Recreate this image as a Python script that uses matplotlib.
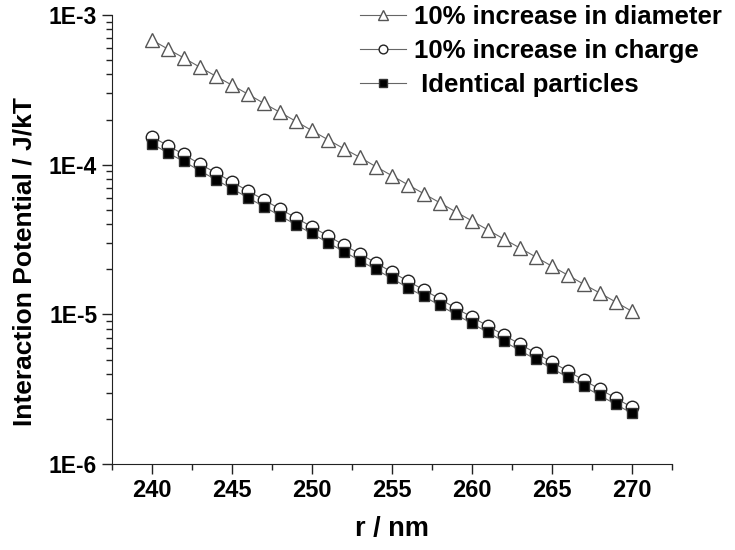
import numpy as np
import matplotlib
matplotlib.use("Agg")
import matplotlib.pyplot as plt
from matplotlib.ticker import FixedLocator, LogLocator, FuncFormatter, NullFormatter


plt.rcParams['font.family'] = ['Liberation Sans', 'DejaVu Sans']
plt.rcParams['font.weight'] = 'bold'


# =====================================================
# Data
# =====================================================

r_nm = list(range(240, 271))

diameter_up = [6.81e-4, 5.92e-4, 5.16e-4, 4.48e-4, 3.90e-4, 3.40e-4, 2.96e-4, 2.57e-4,
               2.24e-4, 1.95e-4, 1.69e-4, 1.47e-4, 1.28e-4, 1.12e-4, 9.71e-5, 8.45e-5,
               7.35e-5, 6.40e-5, 5.57e-5, 4.84e-5, 4.22e-5, 3.67e-5, 3.19e-5, 2.78e-5,
               2.42e-5, 2.10e-5, 1.83e-5, 1.59e-5, 1.39e-5, 1.21e-5, 1.05e-5]

charge_up = [1.54e-4, 1.34e-4, 1.17e-4, 1.01e-4, 8.83e-5, 7.69e-5, 6.69e-5, 5.83e-5,
             5.07e-5, 4.42e-5, 3.85e-5, 3.35e-5, 2.91e-5, 2.54e-5, 2.21e-5, 1.92e-5,
             1.67e-5, 1.46e-5, 1.27e-5, 1.10e-5, 9.62e-6, 8.37e-6, 7.29e-6, 6.34e-6,
             5.52e-6, 4.81e-6, 4.19e-6, 3.64e-6, 3.17e-6, 2.76e-6, 2.40e-6]

identical = [1.38e-4, 1.20e-4, 1.05e-4, 9.12e-5, 7.94e-5, 6.92e-5, 6.03e-5, 5.25e-5,
             4.57e-5, 3.98e-5, 3.47e-5, 3.02e-5, 2.63e-5, 2.29e-5, 2.00e-5, 1.74e-5,
             1.51e-5, 1.32e-5, 1.15e-5, 1.00e-5, 8.71e-6, 7.59e-6, 6.61e-6, 5.75e-6,
             5.01e-6, 4.37e-6, 3.80e-6, 3.31e-6, 2.88e-6, 2.51e-6, 2.19e-6]

labels = ["10% increase in diameter", "10% increase in charge", " Identical particles"]

x_ticks = [240, 245, 250, 255, 260, 265, 270]
y_ticks = [1e-6, 1e-5, 1e-4, 1e-3]


# =====================================================
# Plot
# =====================================================

fig = plt.figure(figsize=(7.35, 5.5), dpi=100)
ax = fig.add_axes([0.152, 0.156, 0.762, 0.817])

line_color = "#666666"

ax.plot(r_nm, diameter_up, color=line_color, lw=0.8, marker="^", markersize=10,
        markerfacecolor="white", markeredgecolor="#555555", markeredgewidth=1.0,
        label=labels[0])
ax.plot(r_nm, charge_up, color=line_color, lw=0.8, marker="o", markersize=9,
        markerfacecolor="white", markeredgecolor="#222222", markeredgewidth=1.0,
        label=labels[1])
ax.plot(r_nm, identical, color=line_color, lw=0.8, marker="s", markersize=7.5,
        markerfacecolor="black", markeredgecolor="#333333", markeredgewidth=1.0,
        label=labels[2])

ax.set_yscale("log")
ax.set_xlim(237.5, 272.5)
ax.set_ylim(1e-6, 1e-3)

ax.xaxis.set_major_locator(FixedLocator(x_ticks))
ax.xaxis.set_minor_locator(FixedLocator([x + 2.5 for x in [235] + x_ticks]))
ax.yaxis.set_major_locator(FixedLocator(y_ticks))
ax.yaxis.set_minor_locator(LogLocator(base=10, subs=np.arange(2, 10)))
ax.yaxis.set_major_formatter(FuncFormatter(lambda v, p: "1E%d" % round(np.log10(v))))
ax.yaxis.set_minor_formatter(NullFormatter())

ax.spines["top"].set_visible(False)
ax.spines["right"].set_visible(False)
ax.spines["left"].set_color("#222222")
ax.spines["bottom"].set_color("#222222")

ax.tick_params(axis="both", which="major", direction="out", length=7, width=1,
               color="#222222")
ax.tick_params(axis="x", which="major", labelsize=17)
ax.tick_params(axis="y", which="major", labelsize=16.5)
ax.tick_params(axis="both", which="minor", direction="out", length=4, width=1,
               color="#222222")
for t in ax.get_xticklabels() + ax.get_yticklabels():
    t.set_fontweight("bold")

ax.set_xlabel("r / nm", fontsize=19.5, fontweight="bold", labelpad=10)
ax.set_ylabel("Interaction Potential / J/kT", fontsize=19, fontweight="bold")
ax.yaxis.set_label_coords(-0.134, 0.452)

leg = ax.legend(loc="upper left", bbox_to_anchor=(360 / 735, 1 - 5 / 550),
                bbox_transform=fig.transFigure, frameon=False, fontsize=18.5,
                handlelength=1.8, handletextpad=0.3, labelspacing=0.38,
                borderaxespad=0, borderpad=0, markerscale=0.7)

plt.savefig("out.png", dpi=100)
plt.close()
